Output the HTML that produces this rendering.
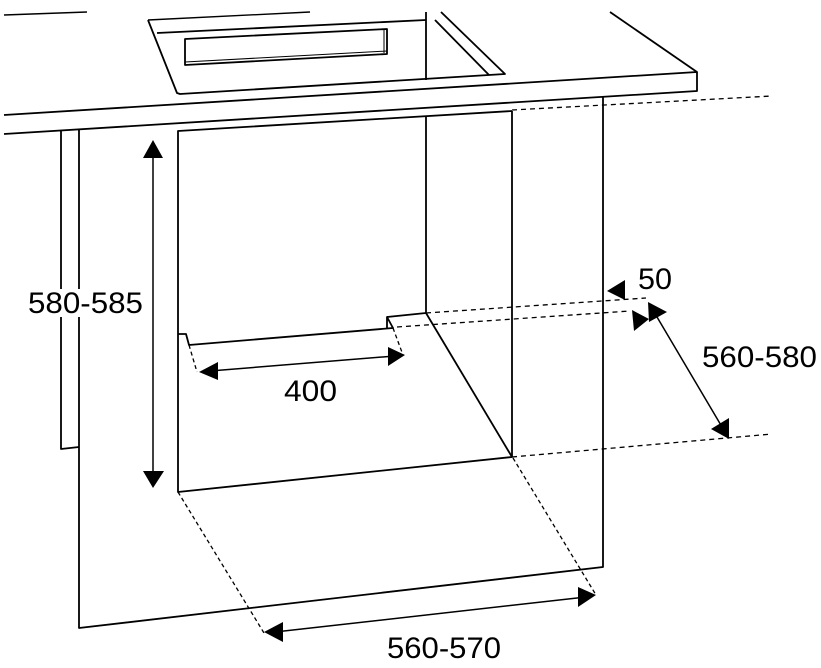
<!DOCTYPE html>
<html><head><meta charset="utf-8"><style>
html,body{margin:0;padding:0;background:#fff}
svg{display:block}
text{font-family:"Liberation Sans",Arial,sans-serif;font-size:30px;fill:#000}
</style></head><body>
<svg width="821" height="668" viewBox="0 0 821 668" xmlns="http://www.w3.org/2000/svg">
<g fill="none" stroke="#000" stroke-width="1.8" stroke-linejoin="round">
<line x1="4" y1="15" x2="87" y2="12" stroke-width="1.4"/>
<line x1="148" y1="20" x2="310" y2="12" stroke-width="1.4"/>
<line x1="610" y1="12" x2="697" y2="72"/>
<polyline points="4,115 697,72 697,91 4,134"/>
<polyline points="148,20 177,93 180,94 505,74 441,12"/>
<line x1="157" y1="33" x2="426" y2="20"/>
<line x1="426" y1="12" x2="426" y2="80"/>
<polyline points="435,20 489,75"/>
<polygon points="185,39 387,29 387,54 185,65"/>
<line x1="185" y1="62" x2="387" y2="51" stroke-width="1"/>
<line x1="384" y1="29" x2="384" y2="53" stroke-width="1"/>
<polyline points="61,130 61,449 79,447"/>
<polyline points="79,130 79,628 603,567 603,97"/>
<polyline points="512,111 178,131 178,492 512,457 512,111"/>
<line x1="426" y1="116" x2="426" y2="313"/>
<line x1="426" y1="313" x2="512" y2="457"/>
<polyline points="178,334 186,334 189,345 393,328 387,317 387,328"/>
<line x1="387" y1="317" x2="426" y2="313"/>
</g>
<g fill="none" stroke="#000" stroke-width="1.3" stroke-dasharray="5,4">
<line x1="512" y1="110" x2="772" y2="96"/>
<line x1="426" y1="313" x2="646" y2="298"/>
<line x1="397" y1="327" x2="630" y2="311"/>
<line x1="512" y1="457" x2="772" y2="434"/>
<line x1="189" y1="345" x2="197" y2="372" stroke-dasharray="4,3"/>
<line x1="393" y1="328" x2="403" y2="355" stroke-dasharray="4,3"/>
<line x1="178" y1="492" x2="264" y2="633" stroke-dasharray="4,3"/>
<line x1="513" y1="458" x2="596" y2="595" stroke-dasharray="4,3"/>
</g>
<g stroke="#000" stroke-width="1.5">
<line x1="153" y1="150" x2="153" y2="480"/>
<line x1="210" y1="371" x2="395" y2="356"/>
<line x1="275" y1="632" x2="586" y2="597"/>
<line x1="657" y1="317" x2="725" y2="432"/>
</g>
<g fill="#000">
<polygon points="153,140 143,158 163,158"/>
<polygon points="153,488 143,471 164,471"/>
<polygon points="199,372 218,362 218,380"/>
<polygon points="405,355 388,347 388,366"/>
<polygon points="264,632 283,622 283,642"/>
<polygon points="596,595 578,587 578,607"/>
<polygon points="607,291 625,280 625,300"/>
<polygon points="632,310 649,319 634,331"/>
<polygon points="648,302 667,312 649,322"/>
<polygon points="711,429 729,418 729,439"/>
</g>
<rect x="27" y="289" width="118" height="28" fill="#fff"/>
<text x="28" y="313" textLength="115" lengthAdjust="spacingAndGlyphs">580-585</text>
<text x="284" y="401" textLength="53" lengthAdjust="spacingAndGlyphs">400</text>
<text x="638" y="289" textLength="34" lengthAdjust="spacingAndGlyphs">50</text>
<text x="702" y="367" textLength="115" lengthAdjust="spacingAndGlyphs">560-580</text>
<text x="387" y="658" textLength="114" lengthAdjust="spacingAndGlyphs">560-570</text>
</svg>
</body></html>
